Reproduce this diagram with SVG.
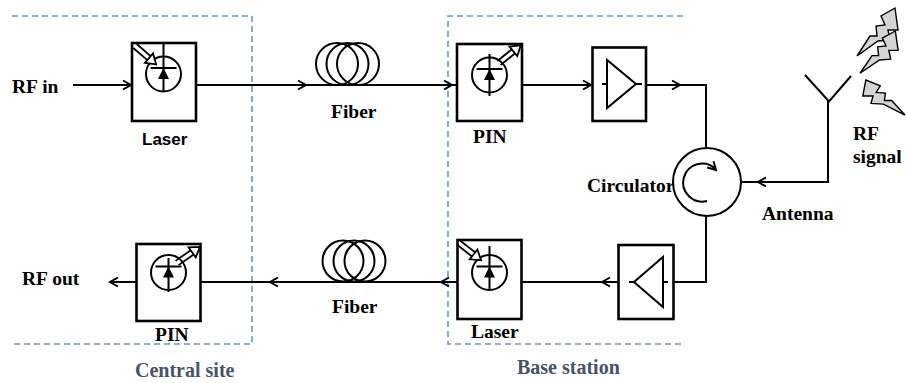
<svg xmlns="http://www.w3.org/2000/svg" xmlns:xlink="http://www.w3.org/1999/xlink" width="906" height="383" viewBox="0 0 906 383">
  <style>
    .wire { fill: none; stroke: #000; stroke-width: 2; }
    .box { fill: #fff; stroke: #000; stroke-width: 2.6; }
    .sym { fill: none; stroke: #000; stroke-width: 2; }
    .zone { fill: none; stroke: #5B9BD5; stroke-width: 1.6; stroke-dasharray: 6 4; }
    .lbl { font-family: "Liberation Serif", "Times New Roman", serif; font-weight: bold; font-size: 19.5px; fill: #000; }
    .lbl-sans { font-family: "Liberation Sans", Arial, sans-serif; font-weight: bold; font-size: 17px; fill: #000; }
    .zone-lbl { font-family: "Liberation Serif", "Times New Roman", serif; font-weight: bold; font-size: 20px; fill: #44546A; }
    .bolt { fill: #d4d4d4; stroke: #000; stroke-width: 1.4; stroke-linejoin: miter; }
  </style>
  <defs>
    <!-- open chevron arrowhead, tip at origin, pointing +x -->
    <path id="chev" d="M-8,-4.5 L0,0 L-8,4.5" fill="none" stroke="#000" stroke-width="2"/>
    <!-- diode body inside the circle, centred on circle centre -->
    <g id="diode">
      <circle r="17.5" fill="none" stroke="#000" stroke-width="2"/>
      <line x1="-13" y1="-6" x2="13" y2="-6" stroke="#000" stroke-width="2"/>
      <polygon points="0,-6 -5.5,5 5.5,5" fill="#000"/>
    </g>
    <!-- hollow double-line light arrow, length 28, pointing +x -->
    <g id="light">
      <line x1="0" y1="-2.6" x2="19" y2="-2.6" stroke="#000" stroke-width="1.8"/>
      <line x1="0" y1="2.6" x2="19" y2="2.6" stroke="#000" stroke-width="1.8"/>
      <polygon points="18.5,-6.2 28,0 18.5,6.2" fill="#fff" stroke="#000" stroke-width="1.8"/>
    </g>
    <!-- lightning bolt, broad end top-right, tip bottom-left -->
    <polygon id="bolt" class="bolt" vector-effect="non-scaling-stroke"
             points="38,0 41,22 31,22 33,32 21,33 0,48 13,28 20,28 19,18 28,17 24,8"/>
  </defs>

  <!-- site boundaries -->
  <g id="central-site">
    <polyline class="zone" points="12,16 252,16 252,344 12,344"/>
    <text class="zone-lbl" x="135" y="377">Central site</text>
  </g>
  <g id="base-station">
    <polyline class="zone" points="683,16 448,16 448,344 683,344"/>
    <text class="zone-lbl" x="517" y="374">Base station</text>
  </g>

  <!-- connectors -->
  <g id="connectors">
    <line class="wire" x1="73" y1="85" x2="132" y2="85"/>
    <use xlink:href="#chev" transform="translate(131,85)"/>
    <line class="wire" x1="196" y1="85" x2="457" y2="85"/>
    <use xlink:href="#chev" transform="translate(306,85)"/>
    <use xlink:href="#chev" transform="translate(452,85)"/>
    <line class="wire" x1="522" y1="85" x2="593" y2="85"/>
    <use xlink:href="#chev" transform="translate(591,85)"/>
    <polyline class="wire" points="646,85 706,85 706,148"/>
    <use xlink:href="#chev" transform="translate(680,85)"/>
    <polyline class="wire" points="741,182 828,182 828,101"/>
    <use xlink:href="#chev" transform="translate(758,182) rotate(180)"/>
    <polyline class="wire" points="706,216 706,282 673,282"/>
    <line class="wire" x1="618" y1="282" x2="522" y2="282"/>
    <use xlink:href="#chev" transform="translate(602,282) rotate(180)"/>
    <line class="wire" x1="457" y1="282" x2="201" y2="282"/>
    <use xlink:href="#chev" transform="translate(441,282) rotate(180)"/>
    <use xlink:href="#chev" transform="translate(270,282) rotate(180)"/>
    <line class="wire" x1="136" y1="282" x2="110" y2="282"/>
    <use xlink:href="#chev" transform="translate(110,282) rotate(180)"/>
  </g>

  <!-- external labels -->
  <text class="lbl" x="12" y="93">RF in</text>
  <text class="lbl" x="22" y="285">RF out</text>

  <!-- transmit laser (central site) -->
  <g id="laser-tx">
    <rect class="box" x="132" y="43" width="64" height="78"/>
    <use xlink:href="#diode" transform="translate(163.5,74)"/>
    <line x1="163.5" y1="43" x2="163.5" y2="91.5" stroke="#000" stroke-width="2"/>
    <use xlink:href="#light" transform="translate(135,46) rotate(41)"/>
    <text class="lbl-sans" x="142" y="145">Laser</text>
  </g>

  <!-- downlink fibre -->
  <g id="fiber-down">
    <circle class="sym" cx="337" cy="64" r="21"/>
    <circle class="sym" cx="347.5" cy="64" r="21"/>
    <circle class="sym" cx="358" cy="64" r="21"/>
    <text class="lbl" x="331" y="118">Fiber</text>
  </g>

  <!-- photodiode at base station -->
  <g id="pin-bs">
    <rect class="box" x="457" y="44" width="65" height="77"/>
    <use xlink:href="#diode" transform="translate(489.5,75)"/>
    <line x1="489.5" y1="54" x2="489.5" y2="96" stroke="#000" stroke-width="2"/>
    <use xlink:href="#light" transform="translate(499,63) rotate(-39)"/>
    <text class="lbl" x="473" y="143">PIN</text>
  </g>

  <!-- downlink amplifier -->
  <g id="amp-down">
    <rect class="box" x="592.5" y="47.5" width="53.5" height="73.5"/>
    <polygon class="sym" points="607,60 607,108 636,84"/>
    <line x1="602" y1="84" x2="607" y2="84" stroke="#000" stroke-width="2"/>
    <line x1="636" y1="84" x2="642" y2="84" stroke="#000" stroke-width="2"/>
  </g>

  <!-- circulator -->
  <g id="circulator">
    <circle class="sym" cx="707" cy="182" r="34"/>
    <path class="sym" d="M707,201 A19,19 0 1,1 715.4,169"/>
    <use xlink:href="#chev" transform="translate(716,170) rotate(45)"/>
    <text class="lbl" x="587" y="192">Circulator</text>
  </g>

  <!-- antenna -->
  <g id="antenna">
    <polyline class="sym" points="805,75 829,101.5 851,76"/>
    <line x1="828" y1="101" x2="828" y2="120" stroke="#000" stroke-width="2"/>
    <text class="lbl" x="762" y="220">Antenna</text>
  </g>

  <!-- radiated signal: three lightning bolts -->
  <g id="rf-signal">
    <use xlink:href="#bolt" transform="translate(857,8)"/>
    <use xlink:href="#bolt" transform="translate(860,31) scale(0.93,0.88)"/>
    <use xlink:href="#bolt" transform="translate(905,80) scale(-1.03,0.73)"/>
    <text class="lbl" x="853" y="140">RF</text>
    <text class="lbl" x="853" y="163">signal</text>
  </g>

  <!-- uplink amplifier -->
  <g id="amp-up">
    <rect class="box" x="618.5" y="245" width="55" height="74"/>
    <polygon class="sym" points="663,257 663,307 634,282"/>
    <line x1="629" y1="282" x2="634" y2="282" stroke="#000" stroke-width="2"/>
    <line x1="663" y1="282" x2="668" y2="282" stroke="#000" stroke-width="2"/>
  </g>

  <!-- uplink laser -->
  <g id="laser-bs">
    <rect class="box" x="457.5" y="240" width="64" height="79"/>
    <use xlink:href="#diode" transform="translate(489.5,272.5)"/>
    <line x1="489.5" y1="246" x2="489.5" y2="291" stroke="#000" stroke-width="2"/>
    <use xlink:href="#light" transform="translate(459,243) rotate(38)"/>
    <text class="lbl" x="471" y="338">Laser</text>
  </g>

  <!-- uplink fibre -->
  <g id="fiber-up">
    <circle class="sym" cx="343" cy="261" r="20.5"/>
    <circle class="sym" cx="354" cy="261" r="20.5"/>
    <circle class="sym" cx="365" cy="261" r="20.5"/>
    <text class="lbl" x="332" y="313">Fiber</text>
  </g>

  <!-- receiving photodiode at central site -->
  <g id="pin-cs">
    <rect class="box" x="136.5" y="244" width="64" height="77"/>
    <use xlink:href="#diode" transform="translate(168.5,272.5)"/>
    <line x1="168.5" y1="258" x2="168.5" y2="292" stroke="#000" stroke-width="2"/>
    <use xlink:href="#light" transform="translate(177,263) rotate(-35)"/>
    <text class="lbl" x="155" y="341">PIN</text>
  </g>
</svg>
